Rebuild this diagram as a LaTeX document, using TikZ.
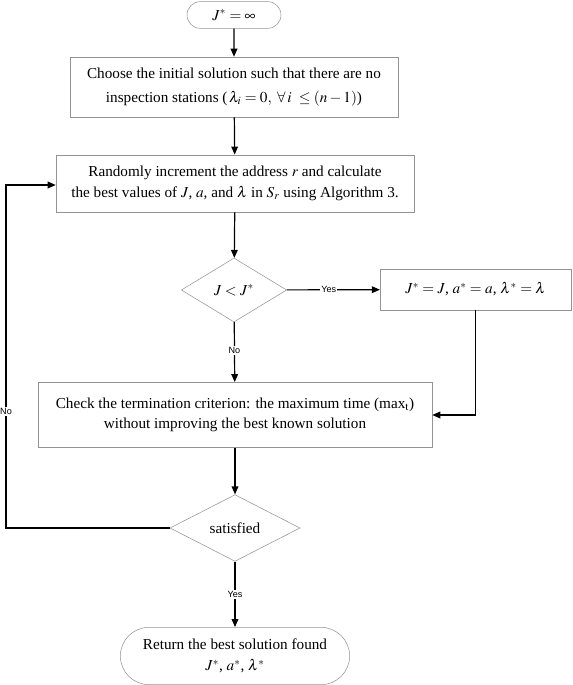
\documentclass[tikz,border=0pt]{standalone}
\usepackage{mathptmx}
\usepackage{fontspec}
\setmainfont{Liberation Serif}
\setsansfont{Liberation Sans}
\usetikzlibrary{shapes.geometric,shapes.misc,arrows.meta,positioning}

\begin{document}
\begin{tikzpicture}[x=0.75pt,y=-0.75pt,font=\fontsize{11.4}{15.5}\selectfont,
    box/.style={draw=gray!85,rectangle,align=center,inner sep=0pt},
    term/.style={draw=gray!85,rounded rectangle,align=center,inner sep=0pt},
    test/.style={draw=gray!85,diamond,align=center,inner sep=0pt},
    flow/.style={-{Triangle[length=6pt,width=5pt]},line width=0.9pt},
    tag/.style={font=\sffamily\fontsize{6.8}{7}\selectfont,fill=white,inner sep=1pt}]
    \useasboundingbox (0,0) rectangle (572,685);
    \node[term,minimum width=70.5pt,minimum height=20pt] (start) at (234,15) {$J^* = \infty$};
    \node[box,minimum width=246pt,minimum height=45pt] (init) at (234,87)
        {Choose the initial solution such that there are no\\[2pt]
         inspection stations ($\,\lambda_i = 0,\ \forall\, i\ \le (n-1)$)};
    \draw[flow] (start) edge (init);
    \node[box,minimum width=268.5pt,minimum height=43pt] (incr) at (235,183.5)
        {Randomly increment the address $r$ and calculate\\
         the best values of $J$, $a$, and $\lambda$ in $S_r$ using Algorithm 3.};
    \draw[flow] (init) edge (incr);
    \node[test,minimum width=79pt,minimum height=48pt] (better) at (234,290) {$J < J^*$};
    \draw[flow] (incr) edge (better);
    \node[box,minimum width=143pt,minimum height=31pt] (update) at (475.5,289.5)
        {$J^* = J$, $a^* = a$, $\lambda^* = \lambda$};
    \draw[flow] (better) edge node[tag,pos=0.45] {Yes} (update);
    \node[box,minimum width=295.5pt,minimum height=49pt] (check) at (235,415)
        {Check the termination criterion: the maximum time (max$_{\mathrm{t}}$)\\
         without improving the best known solution};
    \draw[flow] (better) edge node[tag,pos=0.48] {No} (check);
    \draw[flow] (update.south) |- (check.east);
    \node[test,minimum width=97.5pt,minimum height=50pt] (done) at (235,528) {satisfied};
    \draw[flow] (check) edge (done);
    \node[term,minimum width=172pt,minimum height=43pt] (finish) at (235,656)
        {Return the best solution found\\ $J^*$, $a^*$, $\lambda^*$};
    \draw[flow] (done) edge node[tag,pos=0.5] {Yes} (finish);
    \coordinate (back) at (6,185);
    \draw[flow] (done.west) -| node[tag,pos=0.67] {No} (back) -- (back -| incr.west);
\end{tikzpicture}
\end{document}
